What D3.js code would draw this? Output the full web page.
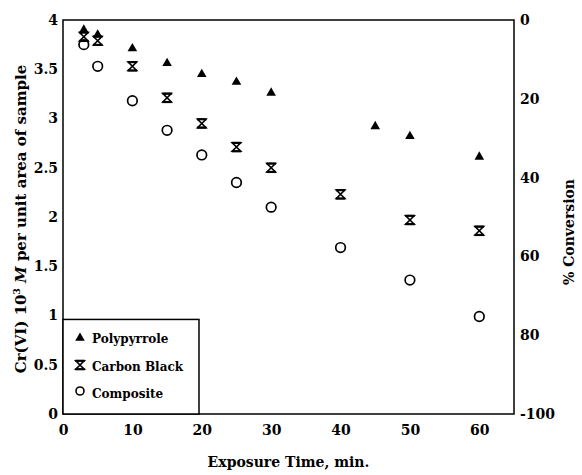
<!DOCTYPE html>
<html>
<head>
<meta charset="utf-8">
<script src="https://cdn.jsdelivr.net/npm/d3@7"></script>
<style>
body{margin:0;background:#fff;}
svg{display:block;}
text{font-family:"DejaVu Serif","Liberation Serif",serif;font-weight:bold;fill:#000;}
</style>
</head>
<body>
<div id="chart"></div>
<script>
const ppTimes = [3,5,10,15,20,25,30,45,50,60];
const polypyrrole = [3.90,3.85,3.71,3.56,3.45,3.37,3.26,2.92,2.82,2.61];
const cbTimes = [3,5,10,15,20,25,30,40,50,60];
const carbonBlack = [3.83,3.79,3.53,3.21,2.95,2.71,2.50,2.23,1.97,1.86];
const coTimes = [3,5,10,15,20,25,30,40,50,60];
const composite = [3.75,3.53,3.18,2.88,2.63,2.35,2.10,1.69,1.36,0.99];
const xTicks = [0,10,20,30,40,50,60];
const yTicks = [0,0.5,1,1.5,2,2.5,3,3.5,4];
const yTickLabels = ["0","0.5","1","1.5","2","2.5","3","3.5","4"];
const rTicks = [0,20,40,60,80,100];
const rTickLabels = ["0","20","40","60","80","-100"];
const legendNames = ["Polypyrrole","Carbon Black","Composite"];

const W = 582, H = 475;
const m = {left:63, right:68, top:20, bottom:61};
const svg = d3.select("#chart").append("svg").attr("width",W).attr("height",H);
const x = d3.scaleLinear().domain([0,65]).range([m.left, W-m.right]);
const y = d3.scaleLinear().domain([0,4]).range([H-m.bottom, m.top]);
const yr = d3.scaleLinear().domain([0,100]).range([m.top, H-m.bottom]);

// frame
svg.append("rect").attr("x",x(0)).attr("y",y(4)).attr("width",x(65)-x(0)).attr("height",y(0)-y(4))
  .attr("fill","none").attr("stroke","#000").attr("stroke-width",1.5);

// axes
const xAxis = d3.axisBottom(x).tickValues(xTicks).tickSize(0).tickPadding(11).tickFormat(d3.format("d"));
svg.append("g").attr("transform",`translate(0,${y(0)})`).call(xAxis)
  .call(g=>g.select(".domain").remove())
  .selectAll("text").style("font-size","14px").style("font-family","'DejaVu Serif',serif");
const yAxis = d3.axisLeft(y).tickValues(yTicks).tickSize(0).tickPadding(5).tickFormat((d,i)=>yTickLabels[i]);
svg.append("g").attr("transform",`translate(${x(0)},0)`).call(yAxis)
  .call(g=>g.select(".domain").remove())
  .selectAll("text").style("font-size","14px").style("font-family","'DejaVu Serif',serif");
const rAxis = d3.axisRight(yr).tickValues(rTicks).tickSize(0).tickPadding(6).tickFormat((d,i)=>rTickLabels[i]);
svg.append("g").attr("transform",`translate(${x(65)},0)`).call(rAxis)
  .call(g=>g.select(".domain").remove())
  .selectAll("text").style("font-size","14px").style("font-family","'DejaVu Serif',serif");

// axis titles
svg.append("text").attr("x",(x(0)+x(65))/2).attr("y",467).attr("text-anchor","middle")
  .style("font-size","14px").text("Exposure Time, min.");
const yl = svg.append("text").attr("transform",`translate(26,${(y(0)+y(4))/2+2}) rotate(-90)`)
  .attr("text-anchor","middle").style("font-size","15px");
yl.append("tspan").text("Cr(VI) 10");
yl.append("tspan").attr("dy",-6).style("font-size","9px").text("3");
yl.append("tspan").attr("dy",6).text(" ");
yl.append("tspan").style("font-style","italic").text("M");
yl.append("tspan").text(" per unit area of sample");
svg.append("text").attr("transform",`translate(574,232) rotate(-90)`)
  .attr("text-anchor","middle").style("font-size","14px").text("% Conversion");

// markers
const tri = d3.symbol().type(d3.symbolTriangle).size(40);
function hourglass(g, cx, cy){
  const s = 4.2;
  g.append("path").attr("d",`M${cx-s},${cy-s}L${cx+s},${cy-s}L${cx-s},${cy+s}L${cx+s},${cy+s}Z`)
    .attr("fill","none").attr("stroke","#000").attr("stroke-width",1.6);
  g.append("line").attr("x1",cx-s-0.5).attr("x2",cx+s+0.5).attr("y1",cy-s).attr("y2",cy-s).attr("stroke","#000").attr("stroke-width",2.2);
  g.append("line").attr("x1",cx-s-0.5).attr("x2",cx+s+0.5).attr("y1",cy+s).attr("y2",cy+s).attr("stroke","#000").attr("stroke-width",2.2);
}
const gCo = svg.append("g");
gCo.selectAll("circle").data(coTimes).join("circle")
  .attr("cx",d=>x(d)).attr("cy",(d,i)=>y(composite[i])).attr("r",4.8)
  .attr("fill","#fff").attr("stroke","#000").attr("stroke-width",1.7);
const gCb = svg.append("g");
cbTimes.forEach((t,i)=>hourglass(gCb, x(t), y(carbonBlack[i])));
const gPp = svg.append("g");
gPp.selectAll("path").data(ppTimes).join("path")
  .attr("d",tri).attr("transform",(d,i)=>`translate(${x(d)},${y(polypyrrole[i])})`).attr("fill","#000");

// legend
svg.append("rect").attr("x",x(0)).attr("y",y(0.96)).attr("width",x(19.6)-x(0)).attr("height",y(0)-y(0.96))
  .attr("fill","#fff").attr("stroke","#000").attr("stroke-width",1.5);
const ly = [340,368,395];
const lg = svg.append("g");
lg.append("path").attr("d",tri).attr("transform",`translate(80,${ly[0]-2})`).attr("fill","#000");
hourglass(lg, 80, ly[1]-3);
lg.append("circle").attr("cx",80).attr("cy",ly[2]-4).attr("r",4).attr("fill","#fff").attr("stroke","#000").attr("stroke-width",1.6);
lg.selectAll("text").data(legendNames).join("text")
  .attr("x",92).attr("y",(d,i)=>ly[i]+3).style("font-size","12px").text(d=>d);
</script>
</body>
</html>
